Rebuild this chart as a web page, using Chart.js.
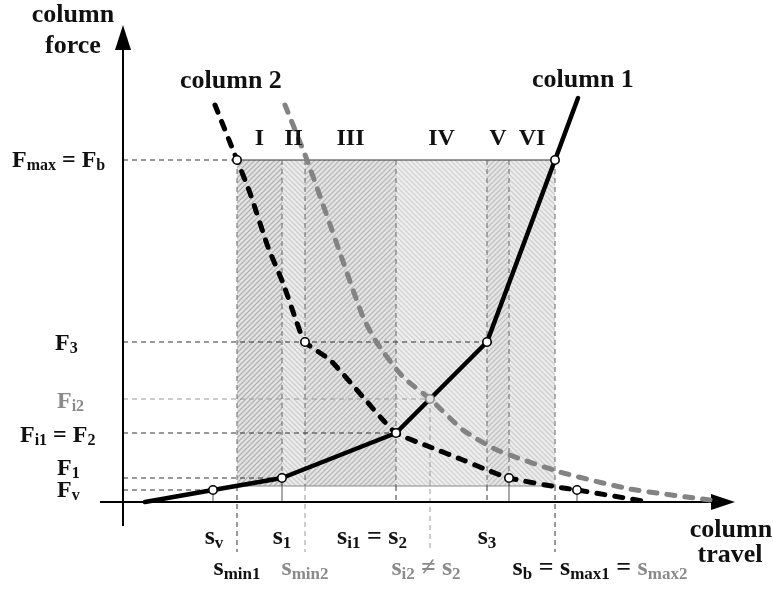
<!DOCTYPE html>
<html>
<head>
<meta charset="utf-8">
<script src="https://cdn.jsdelivr.net/npm/chart.js@4.4.1/dist/chart.umd.min.js"></script>
<style>
  html, body { margin: 0; padding: 0; background: #fff; }
  #wrap { width: 773px; height: 590px; }
</style>
</head>
<body>
<div id="wrap"><canvas id="travelChart"></canvas></div>
<script>
// column 1 characteristic: travel vs force (polyline)
const col1Travel = [2.2, 9.0, 15.9, 27.3, 36.4, 43.2, 45.5];
const col1Force  = [0.0, 1.2, 2.4, 6.9, 16.0, 34.2, 40.4];

// column 2, black dashed branch
const col2Travel = [9.2, 11.4, 12.7, 14.5, 16.0, 17.4, 18.2, 20.7, 24.0, 26.0, 27.3, 30.7, 34.0, 36.4, 38.6, 43.4, 45.4, 52.0];
const col2Force  = [39.7, 34.2, 30.9, 25.5, 21.9, 17.9, 16.0, 14.2, 10.5, 8.2, 6.9, 5.5, 4.2, 3.2, 2.4, 1.5, 1.2, 0.1];

// column 2, grey dashed branch
const col2bTravel = [16.2, 18.4, 21.6, 24.0, 25.4, 28.0, 30.7, 34.0, 37.4, 43.7, 50.7, 58.7];
const col2bForce  = [39.7, 34.2, 25.2, 18.5, 15.9, 12.5, 10.3, 7.2, 5.2, 3.0, 1.3, 0.2];

// open circles on the curves (last one sits on the grey branch)
const markerTravel = [9.0, 15.9, 27.3, 36.4, 43.2, 11.4, 18.2, 38.6, 45.4, 30.7];
const markerForce  = [1.2, 2.4, 6.9, 16.0, 34.2, 34.2, 16.0, 2.4, 1.2, 10.3];

// force levels on the vertical axis
const forceTicks  = [1.2, 2.4, 6.9, 10.3, 16.0, 34.2];
const forceLabels = ['F_{v}', 'F_{1}', 'F_{i1} = F_{2}', '<F_{i2}>', 'F_{3}', 'F_{max} = F_{b}'];

// travel positions on the horizontal axis
const travelTicks  = [9.0, 11.4, 15.9, 18.2, 27.3, 30.7, 36.4, 43.2];
const travelLabels = ['s_{v}', 's_{min1}', 's_{1}', '<s_{min2}>', 's_{i1} = s_{2}', '<s_{i2} ≠ s_{2}>', 's_{3}', 's_{b} = s_{max1} = <s_{max2}>'];

// operating zones inside the shaded box
const zoneNames  = ['I', 'II', 'III', 'IV', 'V', 'VI'];
const zoneBounds = [11.4, 15.9, 18.2, 27.3, 36.4, 38.6, 43.2];
const boxForce   = [1.6, 34.2];

const SERIF = '"Liberation Serif", "Times New Roman", serif';
const GREY_TXT = '#8a8a8a';

function pts(xs, ys) {
  return xs.map((x, i) => ({ x: x, y: ys[i] }));
}

function hatch(bg, fg, slash) {
  const n = 5;
  const c = document.createElement('canvas');
  c.width = n; c.height = n;
  const g = c.getContext('2d');
  g.fillStyle = bg;
  g.fillRect(0, 0, n, n);
  g.strokeStyle = fg;
  g.lineWidth = 1.3;
  g.beginPath();
  for (let k = -1; k <= 1; k++) {
    if (slash) { g.moveTo(k * n - 1, n + 1); g.lineTo(k * n + n + 1, -1); }
    else { g.moveTo(k * n - 1, -1); g.lineTo(k * n + n + 1, n + 1); }
  }
  g.stroke();
  return g.createPattern(c, 'repeat');
}

// split "F_{i1} = <F_{i2}>" into plain / subscript / grey pieces
function parseRich(str) {
  const out = [];
  let grey = false, buf = '', i = 0;
  const push = (t, sub) => { if (t) out.push({ t: t, sub: sub, grey: grey }); };
  while (i < str.length) {
    const c = str[i];
    if (c === '<' || c === '>') {
      push(buf, false); buf = '';
      grey = c === '<'; i++;
    } else if (c === '_') {
      push(buf, false); buf = '';
      const j = str.indexOf('}', i);
      push(str.slice(i + 2, j), true);
      i = j + 1;
    } else { buf += c; i++; }
  }
  push(buf, false);
  return out;
}

function drawRich(ctx, str, x, y, size, align) {
  const parts = parseRich(str);
  const subSize = Math.round(size * 0.66);
  const font = s => 'bold ' + s + 'px ' + SERIF;
  let w = 0;
  parts.forEach(p => {
    ctx.font = font(p.sub ? subSize : size);
    p.w = ctx.measureText(p.t).width;
    w += p.w;
  });
  let cx = align === 'center' ? x - w / 2 : (align === 'right' ? x - w : x);
  ctx.textAlign = 'left';
  ctx.textBaseline = 'alphabetic';
  parts.forEach(p => {
    ctx.font = font(p.sub ? subSize : size);
    ctx.fillStyle = p.grey ? GREY_TXT : '#111';
    ctx.fillText(p.t, cx, y + (p.sub ? Math.round(size * 0.14) : 0));
    cx += p.w;
  });
}

function line(ctx, x1, y1, x2, y2, color, width, dash) {
  ctx.beginPath();
  ctx.strokeStyle = color;
  ctx.lineWidth = width;
  ctx.setLineDash(dash || []);
  ctx.moveTo(x1, y1);
  ctx.lineTo(x2, y2);
  ctx.stroke();
  ctx.setLineDash([]);
}

const diagramPlugin = {
  id: 'diagram',
  beforeDraw(chart) {
    const ctx = chart.ctx;
    ctx.save();
    ctx.fillStyle = '#fff';
    ctx.fillRect(0, 0, chart.width, chart.height);
    ctx.restore();
  },
  beforeDatasetsDraw(chart) {
    const ctx = chart.ctx;
    const X = v => chart.scales.x.getPixelForValue(v);
    const Y = v => chart.scales.y.getPixelForValue(v);
    ctx.save();

    // hatched zones
    const zoneFill = [
      hatch('#e3e3e3', '#b3b3b3', true),
      hatch('#ececec', '#cdcdcd', false),
      hatch('#e4e4e4', '#bababa', true),
      hatch('#eeeeee', '#d3d3d3', false),
      hatch('#e5e5e5', '#c2c2c2', true),
      hatch('#ececec', '#cfcfcf', false)
    ];
    const top = Y(boxForce[1]), bot = Y(boxForce[0]);
    zoneNames.forEach((name, i) => {
      const x0 = X(zoneBounds[i]), x1 = X(zoneBounds[i + 1]);
      ctx.fillStyle = zoneFill[i];
      ctx.fillRect(x0, top, x1 - x0, bot - top);
    });
    line(ctx, X(zoneBounds[0]), top, X(zoneBounds[6]), top, '#333', 1);
    line(ctx, X(zoneBounds[0]), bot, X(zoneBounds[6]), bot, '#888', 1);
    zoneBounds.forEach(b => line(ctx, X(b), top, X(b), bot, '#666', 1, [5, 4]));

    // guide lines from the axes to the marked points
    const dash = [5, 4];
    const dark = '#333', grey = '#9a9a9a';
    line(ctx, X(0), Y(forceTicks[0]), X(travelTicks[0]), Y(forceTicks[0]), dark, 1, dash);
    line(ctx, X(0), Y(forceTicks[1]), X(travelTicks[2]), Y(forceTicks[1]), dark, 1, dash);
    line(ctx, X(0), Y(forceTicks[2]), X(travelTicks[4]), Y(forceTicks[2]), dark, 1, dash);
    line(ctx, X(0), Y(forceTicks[3]), X(travelTicks[5]), Y(forceTicks[3]), grey, 1, dash);
    line(ctx, X(0), Y(forceTicks[4]), X(travelTicks[6]), Y(forceTicks[4]), dark, 1, dash);
    line(ctx, X(0), Y(forceTicks[5]), X(travelTicks[1]), Y(forceTicks[5]), dark, 1, dash);

    const below = -5.0;
    line(ctx, X(travelTicks[0]), Y(forceTicks[0]), X(travelTicks[0]), Y(0), '#555', 1);
    line(ctx, X(travelTicks[1]), bot, X(travelTicks[1]), Y(below), dark, 1, dash);
    line(ctx, X(travelTicks[2]), Y(forceTicks[1]), X(travelTicks[2]), Y(0), '#555', 1);
    line(ctx, X(travelTicks[3]), bot, X(travelTicks[3]), Y(below), grey, 1, dash);
    line(ctx, X(travelTicks[4]), bot, X(travelTicks[4]), Y(0), dark, 1, dash);
    line(ctx, X(travelTicks[5]), Y(forceTicks[3]), X(travelTicks[5]), Y(below), grey, 1, dash);
    line(ctx, X(travelTicks[6]), bot, X(travelTicks[6]), Y(0), dark, 1, dash);
    line(ctx, X(travelTicks[7]), bot, X(travelTicks[7]), Y(below), dark, 1, dash);
    line(ctx, X(markerTravel[7]), Y(markerForce[7]), X(markerTravel[7]), Y(0), '#555', 1);
    line(ctx, X(markerTravel[8]), Y(markerForce[8]), X(markerTravel[8]), Y(0), '#555', 1);

    // axes with arrow heads
    line(ctx, X(-2.3), Y(0), X(59.0), Y(0), '#000', 2);
    line(ctx, X(0), Y(-2.4), X(0), Y(45.5), '#000', 2);
    ctx.fillStyle = '#000';
    ctx.beginPath();
    ctx.moveTo(X(61.2), Y(0));
    ctx.lineTo(X(58.8), Y(0) - 8);
    ctx.lineTo(X(58.8), Y(0) + 8);
    ctx.closePath();
    ctx.fill();
    ctx.beginPath();
    ctx.moveTo(X(0), Y(47.7));
    ctx.lineTo(X(0) - 8, Y(45.2));
    ctx.lineTo(X(0) + 8, Y(45.2));
    ctx.closePath();
    ctx.fill();
    ctx.restore();
  },
  afterDraw(chart) {
    const ctx = chart.ctx;
    const X = v => chart.scales.x.getPixelForValue(v);
    const Y = v => chart.scales.y.getPixelForValue(v);
    ctx.save();

    // force labels, left of the vertical axis
    const fLeft = [57, 57, 20, 57, 55, 12];
    const fDy = [7, -3, 9, 9, 8, 7];
    forceLabels.forEach((lab, i) => drawRich(ctx, lab, fLeft[i], Y(forceTicks[i]) + fDy[i], 24, 'left'));

    // travel labels in two rows under the axis
    const sRow = [0, 1, 0, 1, 0, 1, 0, 1];
    const sDx = [1, 0, 0, 0, -24, -4, 0, 45];
    travelLabels.forEach((lab, i) => {
      const y = sRow[i] ? 575 : 544;
      drawRich(ctx, lab, X(travelTicks[i]) + sDx[i], y, 26, 'center');
    });

    // zone numerals above the box
    zoneNames.forEach((name, i) => {
      const cx = (X(zoneBounds[i]) + X(zoneBounds[i + 1])) / 2;
      drawRich(ctx, name, cx, Y(boxForce[1]) - 15, 24, 'center');
    });

    // curve and axis titles
    drawRich(ctx, 'column', 73, 22, 26, 'center');
    drawRich(ctx, 'force', 73, 53, 26, 'center');
    drawRich(ctx, 'column 2', 180, 88, 26, 'left');
    drawRich(ctx, 'column 1', 532, 87, 26, 'left');
    drawRich(ctx, 'column', 731, 537, 26, 'center');
    drawRich(ctx, 'travel', 730, 562, 26, 'center');
    ctx.restore();
  }
};

const dashedCurve = {
  showLine: true,
  fill: false,
  borderWidth: 5,
  borderDash: [8, 10],
  borderCapStyle: 'round',
  borderJoinStyle: 'round',
  pointRadius: 0,
  tension: 0.2
};

const ctx = document.getElementById('travelChart').getContext('2d');
new Chart(ctx, {
  type: 'scatter',
  data: {
    datasets: [
      {
        label: 'markers',
        data: pts(markerTravel, markerForce),
        showLine: false,
        pointRadius: 4.2,
        pointBorderWidth: 1.6,
        pointBackgroundColor: c => c.dataIndex === 9 ? '#e2e2e2' : '#fff',
        pointBorderColor: c => c.dataIndex === 9 ? '#8a8a8a' : '#000',
        order: 0
      },
      {
        label: 'column 1',
        data: pts(col1Travel, col1Force),
        showLine: true,
        fill: false,
        borderColor: '#000',
        borderWidth: 4.5,
        borderJoinStyle: 'round',
        borderCapStyle: 'round',
        pointRadius: 0,
        tension: 0,
        order: 1
      },
      Object.assign({
        label: 'column 2',
        data: pts(col2Travel, col2Force),
        borderColor: '#000',
        order: 2
      }, dashedCurve),
      Object.assign({
        label: 'column 2 (grey)',
        data: pts(col2bTravel, col2bForce),
        borderColor: '#838383',
        order: 3
      }, dashedCurve)
    ]
  },
  options: {
    responsive: true,
    maintainAspectRatio: false,
    animation: false,
    events: [],
    layout: { padding: { left: 98, right: 25, top: 20, bottom: 30 } },
    scales: {
      x: { type: 'linear', display: false, min: -2.5, max: 62.5 },
      y: { type: 'linear', display: false, min: -5.8, max: 48.2 }
    },
    plugins: {
      legend: { display: false },
      tooltip: { enabled: false }
    }
  },
  plugins: [diagramPlugin]
});
</script>
</body>
</html>
